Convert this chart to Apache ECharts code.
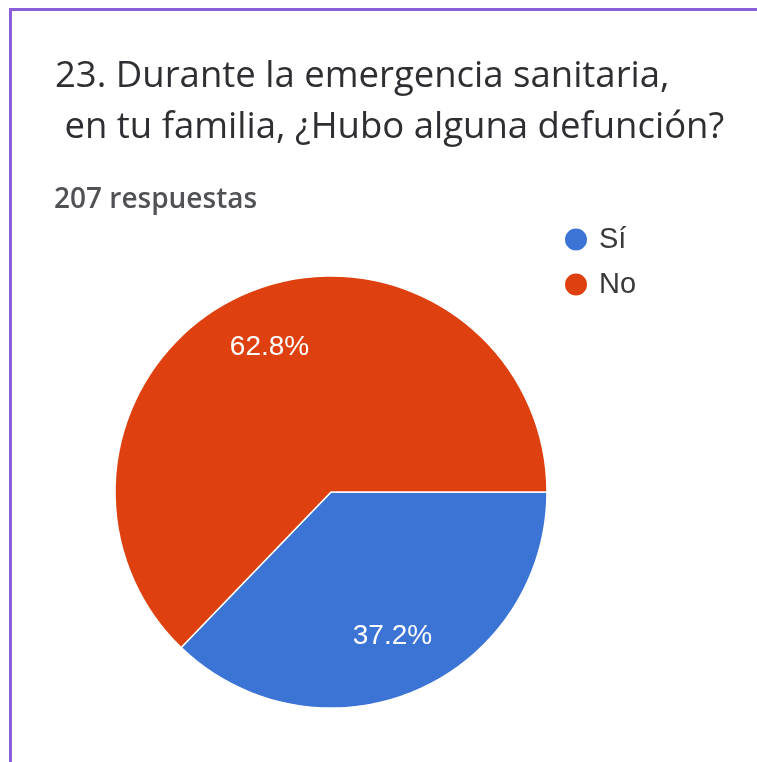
<!DOCTYPE html>
<html>
<head>
<meta charset="utf-8">
<script src="https://cdn.jsdelivr.net/npm/echarts@6/dist/echarts.min.js"></script>
<style>
  html, body { margin: 0; padding: 0; background: #fff; }
  #chart { width: 757px; height: 762px; }
</style>
</head>
<body>
<div id="chart"></div>
<script>
const titleLines = ['23. Durante la emergencia sanitaria,', ' en tu familia, ¿Hubo alguna defunción?'];
const subtitleText = '207 respuestas';
const categories = ['Sí', 'No'];
const percentages = [37.2, 62.8];
const colors = ['#3b74d5', '#de410f'];

const pieData = categories.map((name, i) => ({ name: name, value: percentages[i] }));

const chart = echarts.init(document.getElementById('chart'), null, { renderer: 'canvas' });
chart.setOption({
  animation: false,
  backgroundColor: '#ffffff',
  color: colors,
  title: [
    {
      text: titleLines.join('\n'),
      left: 50,
      top: 46,
      textStyle: { fontFamily: 'Open Sans', fontSize: 36.5, fontWeight: 'normal', color: '#2e2f32', lineHeight: 51 }
    },
    {
      text: subtitleText,
      left: 49,
      top: 181,
      textStyle: { fontFamily: 'Open Sans', fontSize: 28, fontWeight: 600, color: '#505256' }
    }
  ],
  legend: {
    orient: 'vertical',
    left: 558,
    top: 220,
    icon: 'circle',
    itemWidth: 24,
    itemHeight: 24,
    itemGap: 16,
    data: categories,
    textStyle: { fontFamily: 'Liberation Sans', fontSize: 29, color: '#3a3a3a', padding: [0, 0, 0, 6] }
  },
  graphic: [
    { type: 'rect', shape: { x: 9, y: 8, width: 760, height: 3 }, style: { fill: '#8a60da' } },
    { type: 'rect', shape: { x: 9, y: 8, width: 3, height: 760 }, style: { fill: '#8a60da' } }
  ],
  series: [
    {
      type: 'pie',
      center: [331, 492],
      radius: [0, 216],
      startAngle: 0,
      clockwise: true,
      silent: true,
      label: { show: false },
      labelLine: { show: false },
      itemStyle: { borderColor: '#ffffff', borderWidth: 1.5 },
      data: pieData
    },
    {
      type: 'pie',
      center: [331, 492],
      radius: [92, 216],
      startAngle: 0,
      clockwise: true,
      silent: true,
      legendHoverLink: false,
      itemStyle: { color: 'rgba(0,0,0,0)' },
      label: {
        show: true,
        position: 'inside',
        formatter: (p) => p.value.toFixed(1) + '%',
        fontFamily: 'Liberation Sans',
        fontSize: 28,
        color: '#ffffff'
      },
      labelLine: { show: false },
      data: pieData
    }
  ]
});
</script>
</body>
</html>
